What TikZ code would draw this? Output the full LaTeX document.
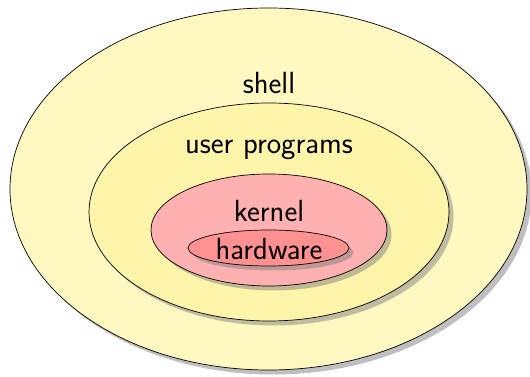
\documentclass[tikz,border=0pt]{standalone}
\usepackage{tikz}
\usetikzlibrary{shapes.geometric, shadows, positioning}
\definecolor{ShellYellow}{RGB}{255,249,193}
\definecolor{UserYellow}{RGB}{255,245,170}
\definecolor{KernelPink}{RGB}{255,176,176}
\definecolor{HardPink}{RGB}{255,145,145}

\begin{document}
\begin{tikzpicture}[
    layer/.style={ellipse, draw, inner sep=0pt,
      drop shadow={shadow xshift=0.09cm, shadow yshift=-0.09cm}},
    lbl/.style={font=\sffamily\fontsize{17.4}{20}\selectfont}]
        \useasboundingbox (0,0) rectangle (10.6,7.54);

        % Nested layers, outermost first
        \node [layer, fill=ShellYellow, minimum width=10.34cm, minimum height=7.24cm] (shell) at (5.37,3.76) {};
        \node [layer, fill=UserYellow, minimum width=7.2cm, minimum height=4.36cm] (user) at (5.38,3.30) {};
        \node [layer, fill=KernelPink, minimum width=4.72cm, minimum height=2.24cm] (kernel) at (5.38,2.94) {};
        \node [layer, fill=HardPink, minimum width=3.22cm, minimum height=0.72cm] (hardware) at (5.37,2.58) {};

        % Labels
        \node [lbl] (shelltext) at (5.38,5.88) {shell};
        \node [lbl] (usertext) at (5.38,4.55) {user programs};
        \node [lbl] (kerneltext) at (5.38,3.31) {kernel};
        \node [lbl] (hardtext) at (5.38,2.56) {hardware};
\end{tikzpicture}
\end{document}
